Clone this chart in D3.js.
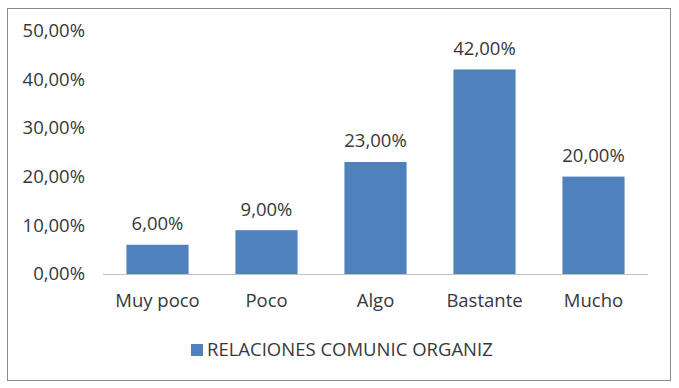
<!DOCTYPE html>
<html>
<head>
<meta charset="utf-8">
<script src="https://cdn.jsdelivr.net/npm/d3@7"></script>
<style>
  body { margin: 0; background: #fff; }
  text { font-family: "Open Sans", sans-serif; fill: #383838; }
</style>
</head>
<body>
<div id="chart"></div>
<script>
const categories = ["Muy poco", "Poco", "Algo", "Bastante", "Mucho"];
const values = [6, 9, 23, 42, 20];
const yTicks = [0, 10, 20, 30, 40, 50];
const seriesName = "RELACIONES COMUNIC ORGANIZ";

const width = 679, height = 388;
const fontSize = 18.5;
const fmt = v => v.toFixed(2).replace(".", ",") + "%";

const svg = d3.select("#chart")
    .append("svg")
    .attr("width", width)
    .attr("height", height);

// outer frame
svg.append("rect")
    .attr("x", 7.5).attr("y", 8.5)
    .attr("width", 663).attr("height", 372)
    .attr("fill", "#fff")
    .attr("stroke", "#8c8c8c");

const x = d3.scaleBand()
    .domain(categories)
    .range([103, 648])
    .paddingInner(0.43)
    .paddingOuter(0.215);

const y = d3.scaleLinear()
    .domain([0, 50])
    .range([274, 30.5]);

// y labels
svg.append("g")
    .selectAll("text")
    .data(yTicks)
    .join("text")
    .attr("x", 85)
    .attr("y", d => y(d))
    .attr("dy", "0.35em")
    .attr("text-anchor", "end")
    .attr("font-size", fontSize)
    .text(fmt);

// bars
svg.append("g")
    .selectAll("rect")
    .data(values)
    .join("rect")
    .attr("x", (d, i) => x(categories[i]))
    .attr("y", d => y(d))
    .attr("width", x.bandwidth())
    .attr("height", d => y(0) - y(d))
    .attr("fill", "#4f81bd");

// data labels
svg.append("g")
    .selectAll("text")
    .data(values)
    .join("text")
    .attr("x", (d, i) => x(categories[i]) + x.bandwidth() / 2)
    .attr("y", d => y(d) - 21)
    .attr("dy", "0.35em")
    .attr("text-anchor", "middle")
    .attr("font-size", fontSize)
    .text(fmt);

// x axis
const xAxis = svg.append("g")
    .attr("transform", `translate(0,${y(0)})`)
    .call(d3.axisBottom(x).tickSize(0).tickPadding(20));
xAxis.select(".domain").attr("stroke", "#bfbfbf").attr("d", "M103,0.5H648");
xAxis.selectAll("text")
    .attr("font-size", fontSize)
    .attr("font-family", null)
    .attr("fill", null);

// legend
const legend = svg.append("g").attr("transform", "translate(191,350)");
legend.append("rect")
    .attr("x", 0).attr("y", -6)
    .attr("width", 12).attr("height", 12)
    .attr("fill", "#4f81bd");
legend.append("text")
    .attr("x", 16)
    .attr("dy", "0.35em")
    .attr("font-size", fontSize)
    .text(seriesName);
</script>
</body>
</html>
